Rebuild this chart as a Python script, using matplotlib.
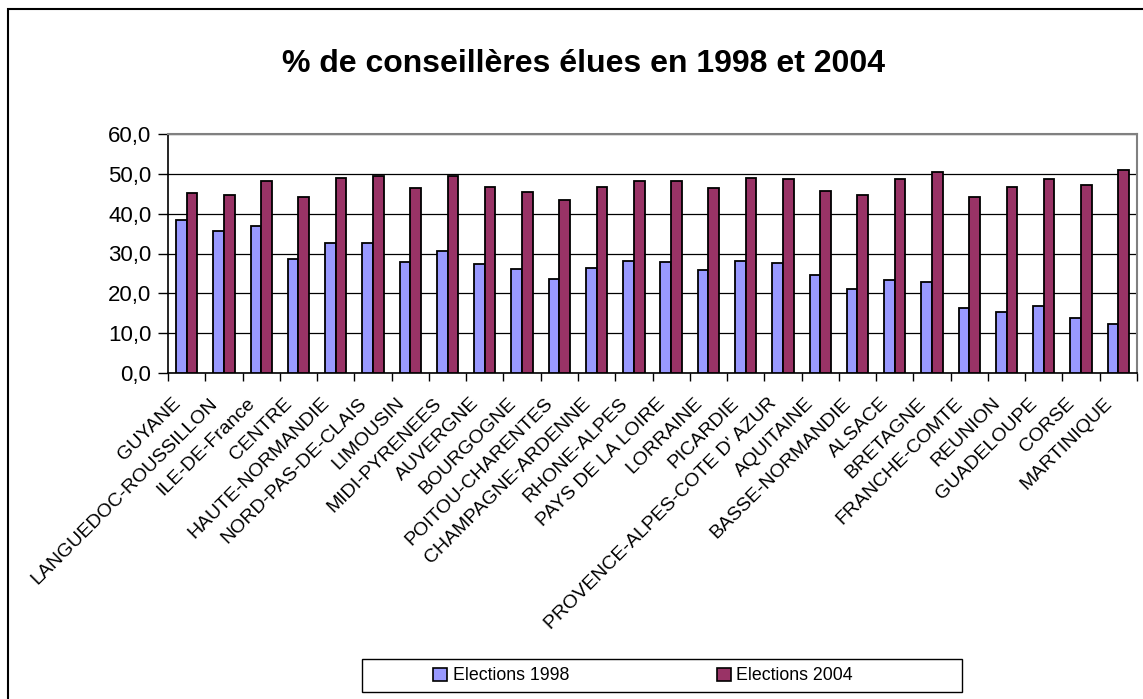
import matplotlib
matplotlib.use("Agg")
import matplotlib.pyplot as plt
import numpy as np
from matplotlib.patches import Patch, Rectangle
from matplotlib.ticker import FixedLocator, FuncFormatter
from matplotlib.transforms import ScaledTranslation

plt.rcParams["font.family"] = ["Liberation Sans", "DejaVu Sans"]

regions = [
    "GUYANE", "LANGUEDOC-ROUSSILLON", "ILE-DE-France", "CENTRE",
    "HAUTE-NORMANDIE", "NORD-PAS-DE-CLAIS", "LIMOUSIN", "MIDI-PYRENEES",
    "AUVERGNE", "BOURGOGNE", "POITOU-CHARENTES", "CHAMPAGNE-ARDENNE",
    "RHONE-ALPES", "PAYS DE LA LOIRE", "LORRAINE", "PICARDIE",
    "PROVENCE-ALPES-COTE D' AZUR", "AQUITAINE", "BASSE-NORMANDIE", "ALSACE",
    "BRETAGNE", "FRANCHE-COMTE", "REUNION", "GUADELOUPE", "CORSE", "MARTINIQUE",
]
elections_1998 = [
    38.5, 35.7, 36.8, 28.5, 32.7, 32.7, 27.8, 30.7, 27.4, 26.2, 23.5, 26.4,
    28.0, 27.8, 25.9, 28.0, 27.5, 24.6, 21.2, 23.3, 22.8, 16.2, 15.4, 16.9,
    13.7, 12.2,
]
elections_2004 = [
    45.2, 44.8, 48.2, 44.2, 49.0, 49.5, 46.4, 49.5, 46.7, 45.4, 43.5, 46.7,
    48.3, 48.3, 46.4, 49.0, 48.7, 45.8, 44.7, 48.7, 50.4, 44.2, 46.6, 48.6,
    47.1, 50.9,
]
series_labels = ["Elections 1998", "Elections 2004"]
colors = ["#9999FF", "#993366"]

W, H = 1143, 699
fig = plt.figure(figsize=(W / 100, H / 100), dpi=100)
ax = fig.add_axes([168 / W, 1 - 373 / H, (1137 - 168) / W, (373 - 134) / H])

x = np.arange(len(regions))
bw = 1 / 3.5
ax.bar(x - bw / 2, elections_1998, bw, color=colors[0], edgecolor="black",
       linewidth=1.3, zorder=3)
ax.bar(x + bw / 2, elections_2004, bw, color=colors[1], edgecolor="black",
       linewidth=1.3, zorder=3)

ax.set_xlim(-0.5, len(regions) - 0.5)
ax.set_ylim(0, 60)
ax.set_yticks(np.arange(0, 61, 10))
ax.yaxis.set_major_formatter(FuncFormatter(lambda v, p: f"{v:.1f}".replace(".", ",")))
ax.yaxis.grid(True, color="black", linewidth=0.9, zorder=0)
ax.tick_params(axis="y", direction="out", length=7, width=1, labelsize=16, pad=5)

# tick marks between categories, labels at category centres
ax.xaxis.set_major_locator(FixedLocator(np.arange(-0.5, len(regions), 1)))
ax.xaxis.set_major_formatter(FuncFormatter(lambda v, p: ""))
ax.xaxis.set_minor_locator(FixedLocator(x))
ax.set_xticklabels(regions, minor=True, rotation=45, ha="right", va="top",
                   rotation_mode="anchor", fontsize=14)
ax.tick_params(axis="x", which="major", direction="out", length=6, width=1)
ax.tick_params(axis="x", which="minor", length=0, pad=12)
shift = ScaledTranslation(-15 / 100, -5 / 100, fig.dpi_scale_trans)
for lbl in ax.get_xticklabels(minor=True):
    lbl.set_transform(lbl.get_transform() + shift)

for side in ("left", "bottom"):
    ax.spines[side].set_color("black")
    ax.spines[side].set_linewidth(1.2)
for side in ("top", "right"):
    ax.spines[side].set_color("#808080")
    ax.spines[side].set_linewidth(1.5)

fig.text(583 / W, 1 - 72 / H, "% de conseillères élues en 1998 et 2004",
         ha="center", va="baseline", fontsize=23, fontweight="bold")

# legend box
fig.add_artist(Rectangle((362 / W, 1 - 692 / H), 600 / W, 33 / H,
                         transform=fig.transFigure, fill=False,
                         edgecolor="black", linewidth=1.0))
handles = [Patch(facecolor=c, edgecolor="black", linewidth=1.2) for c in colors]
fig.legend(handles, series_labels, loc="center", ncol=2,
           bbox_to_anchor=(643 / W, 1 - 676 / H), frameon=False,
           fontsize=12.8, handlelength=0.8, handleheight=0.8,
           handletextpad=0.3, columnspacing=8.3)

# outer chart border
fig.add_artist(Rectangle((8 / W, -0.1), 1.2, 1.1 - 9 / H,
                         transform=fig.transFigure, fill=False,
                         edgecolor="black", linewidth=1.5))

fig.savefig("out.png", dpi=100)
